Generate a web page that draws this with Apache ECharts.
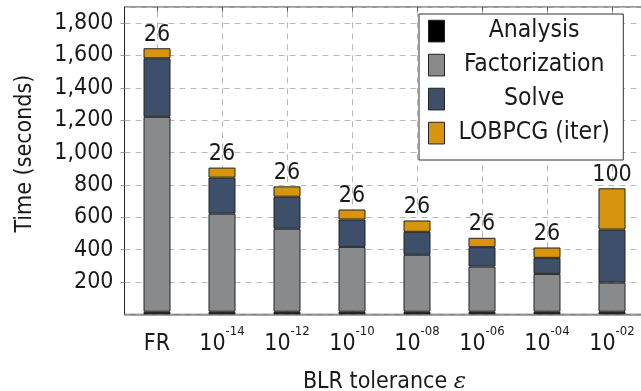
<!DOCTYPE html>
<html>
<head>
<meta charset="utf-8">
<script src="https://cdn.jsdelivr.net/npm/echarts@6/dist/echarts.min.js"></script>
<style>
  html, body { margin: 0; padding: 0; background: #fff; }
  #chart { width: 641px; height: 391px; }
</style>
</head>
<body>
<div id="chart"></div>
<script>
// BLR tolerance (exponent of 10), 'FR' = full-rank reference run
const categories = ['FR', '-14', '-12', '-10', '-08', '-06', '-04', '-02'];

// Time per phase, in seconds
const analysis      = [16, 16, 16, 16, 16, 16, 16, 16];
const factorization = [1205, 606, 513, 401, 352, 279, 234, 180];
const solve         = [362, 223, 198, 169, 142, 120, 99, 328];
const lobpcg        = [62, 62, 64, 62, 70, 58, 64, 255];

// LOBPCG iteration counts shown above each bar
const iterations = [26, 26, 26, 26, 26, 26, 26, 100];

const yTicks = { min: 0, max: 1900, interval: 200 };

const FONT = '"DejaVu Sans Condensed", "Liberation Sans", sans-serif';
const TXT = '#1a1a1a';
const EDGE = '#222';
const GRID_DASH = { type: [6, 5], color: '#b8b8b8', width: 1 };
const SUP = { fontFamily: FONT, fontSize: 13, color: TXT, verticalAlign: 'bottom', padding: [0, 0, 24, 0] };

const chart = echarts.init(document.getElementById('chart'), null, { renderer: 'canvas' });

function bar(name, data, color, extra) {
  return Object.assign({
    name: name,
    type: 'bar',
    stack: 'time',
    data: data,
    barWidth: 27,
    itemStyle: { color: color, borderColor: EDGE, borderWidth: 1 },
    emphasis: { disabled: true },
    animation: false
  }, extra || {});
}

const option = {
  animation: false,
  textStyle: { fontFamily: FONT },
  grid: {
    left: 124.5, top: 7, width: 520, bottom: 76.7,
    containLabel: false,
    outerBoundsMode: 'none',
    show: true, borderColor: '#333', borderWidth: 1, backgroundColor: 'transparent'
  },
  legend: {
    orient: 'vertical',
    left: 419, top: 14,
    padding: [4.6, 13.5, 14.4, 9],
    itemGap: 9,
    itemWidth: 16, itemHeight: 21.7,
    backgroundColor: '#fff',
    borderColor: '#333', borderWidth: 1,
    borderRadius: 0,
    icon: 'rect',
    itemStyle: { borderColor: EDGE, borderWidth: 1 },
    selectedMode: false,
    z: 10,
    data: ['Analysis', 'Factorization', 'Solve', 'LOBPCG (iter)'],
    formatter: n => '{c|' + n + '}',
    textStyle: {
      fontFamily: FONT, fontSize: 24.5, color: TXT,
      rich: { c: { width: 169.4, align: 'center', fontSize: 24.5, fontFamily: FONT, color: TXT } }
    }
  },
  xAxis: [{
    type: 'category',
    data: categories,
    name: 'BLR tolerance {e|ε}',
    nameLocation: 'middle',
    nameGap: 56,
    nameTextStyle: {
      fontFamily: FONT, fontSize: 23, color: TXT,
      rich: { e: { fontFamily: '"DejaVu Serif", serif', fontStyle: 'italic', fontSize: 23, color: TXT } }
    },
    axisLine: { show: true, lineStyle: { color: '#8a8a8a', width: 1.5 } },
    axisTick: { show: false },
    splitLine: { show: false },
    axisLabel: {
      interval: 0,
      margin: 11,
      // 'FR' gets an empty strut with the exponent's height so all labels share one baseline
      formatter: c => c === 'FR' ? '{b|FR}{z|\u200b}' : '{b|10}{s|' + c + '}',
      rich: {
        b: { fontFamily: FONT, fontSize: 23, color: TXT },
        s: SUP,
        z: Object.assign({}, SUP, { width: 0 })
      }
    }
  }, {
    // top frame edge: short inward ticks at each category
    type: 'category',
    data: categories,
    position: 'top',
    axisLine: { show: false },
    axisLabel: { show: false },
    splitLine: { show: false },
    axisTick: { show: true, inside: true, alignWithLabel: true, length: 6, lineStyle: { color: '#555' } }
  }],
  yAxis: {
    type: 'value',
    min: yTicks.min, max: yTicks.max, interval: yTicks.interval,
    name: 'Time (seconds)',
    nameLocation: 'middle',
    nameGap: 88,
    nameTextStyle: { fontFamily: FONT, fontSize: 23, color: TXT, padding: [0, 0, 0, 14] },
    axisLine: { show: true, lineStyle: { color: '#222', width: 1 } },
    axisTick: { show: true, length: 4, lineStyle: { color: '#999' } },
    splitLine: { show: true, lineStyle: GRID_DASH },
    axisLabel: {
      margin: 11,
      showMinLabel: false,
      showMaxLabel: false,
      fontFamily: FONT, fontSize: 23, color: TXT,
      formatter: v => v.toLocaleString('en-US')
    }
  },
  series: [
    bar('Analysis', analysis, '#000000', {
      markLine: {
        silent: true, symbol: 'none', z: 1,
        label: { show: false },
        lineStyle: GRID_DASH,
        emphasis: { disabled: true },
        data: categories.map(c => ({ xAxis: c }))
      }
    }),
    bar('Factorization', factorization, '#898a8c'),
    bar('Solve', solve, '#3e5069'),
    bar('LOBPCG (iter)', lobpcg, '#d6950c', {
      label: {
        show: true,
        position: 'top',
        distance: 2,
        fontFamily: FONT, fontSize: 23, color: TXT,
        formatter: p => String(iterations[p.dataIndex])
      }
    })
  ]
};

chart.setOption(option);
</script>
</body>
</html>
